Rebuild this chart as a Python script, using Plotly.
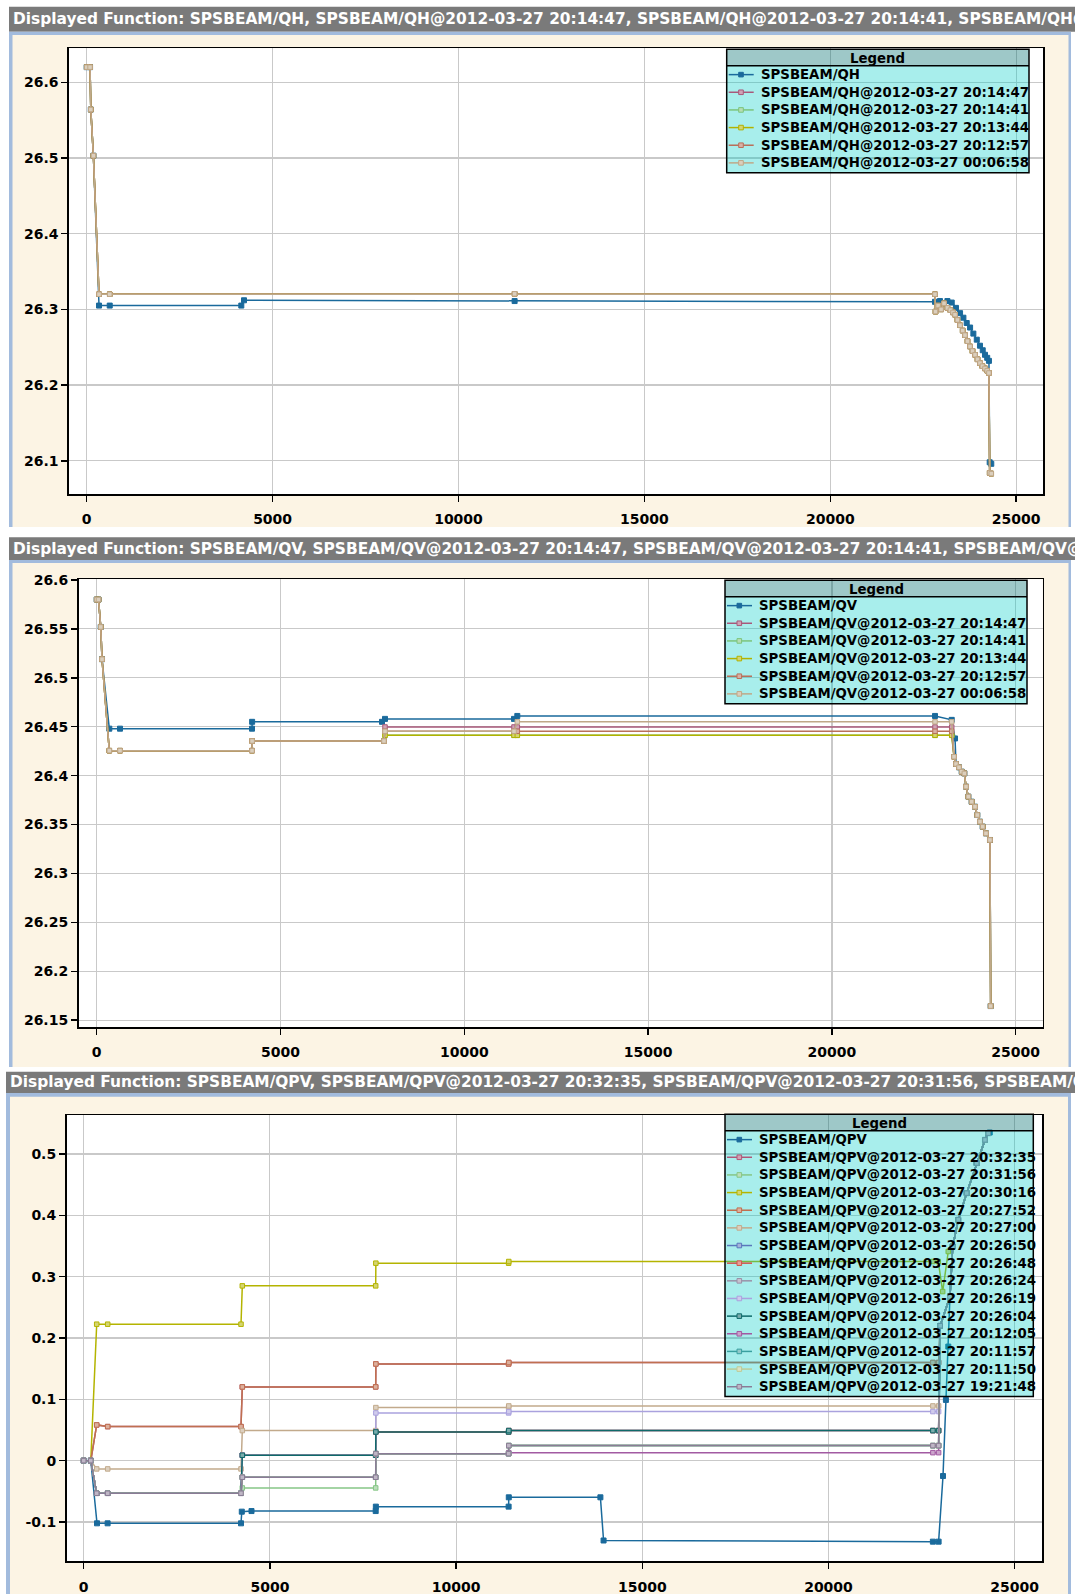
import plotly.graph_objects as go

W, H = 1075, 1594

# ---------------------------------------------------------------- QH
QH_NAMES = ["SPSBEAM/QH",
            "SPSBEAM/QH@2012-03-27 20:14:47",
            "SPSBEAM/QH@2012-03-27 20:14:41",
            "SPSBEAM/QH@2012-03-27 20:13:44",
            "SPSBEAM/QH@2012-03-27 20:12:57",
            "SPSBEAM/QH@2012-03-27 00:06:58"]
QH_COLORS = ["#1a6a9c", "#a8587a", "#7cc47c", "#b2b200", "#b9705a", "#bfa888"]

QH_X = [0, 90, 110, 180, 331, 619, 4158, 4231, 11509, 22816, 22950, 23050, 23150,
        23266, 23380, 23490, 23580, 23669, 23760, 23848, 23940, 24026, 24100, 24161,
        24220, 24267, 24287, 24330]
QH_Y = [26.62, 26.62, 26.564, 26.503, 26.305, 26.305, 26.305, 26.312, 26.311, 26.310,
        26.311, 26.308, 26.311, 26.309, 26.302, 26.295, 26.289, 26.282, 26.276, 26.268,
        26.260, 26.252, 26.246, 26.240, 26.236, 26.232, 26.098, 26.096]

# all stored references follow the same trajectory
QH_REF_X = [0, 90, 110, 180, 331, 619, 11509, 22816, 22830, 22900, 22980, 23060, 23150,
            23230, 23300, 23354, 23420, 23490, 23560, 23623, 23690, 23758, 23825, 23893,
            23960, 24026, 24090, 24161, 24220, 24267, 24287, 24330]
QH_REF_Y = [26.62, 26.62, 26.564, 26.503, 26.32, 26.32, 26.3205, 26.32, 26.297, 26.305,
            26.300, 26.308, 26.302, 26.299, 26.296, 26.293, 26.286, 26.279, 26.272, 26.266,
            26.258, 26.251, 26.245, 26.240, 26.234, 26.229, 26.225, 26.222, 26.219, 26.216,
            26.084, 26.083]

QH_YTICKS = [26.1, 26.2, 26.3, 26.4, 26.5, 26.6]
QH_YTEXT = ["26.1", "26.2", "26.3", "26.4", "26.5", "26.6"]

# ---------------------------------------------------------------- QV
QV_NAMES = ["SPSBEAM/QV",
            "SPSBEAM/QV@2012-03-27 20:14:47",
            "SPSBEAM/QV@2012-03-27 20:14:41",
            "SPSBEAM/QV@2012-03-27 20:13:44",
            "SPSBEAM/QV@2012-03-27 20:12:57",
            "SPSBEAM/QV@2012-03-27 00:06:58"]
QV_COLORS = QH_COLORS

QV_X = [0, 50, 110, 145, 343, 634, 4225, 4228, 7761, 7843, 11352, 11442, 22805, 23259, 23349]
QV_Y = [26.58, 26.58, 26.552, 26.519, 26.448, 26.448, 26.448, 26.455, 26.455, 26.458,
        26.458, 26.461, 26.461, 26.457, 26.438]

QV_REF_HEAD_X = [0, 50, 110, 145, 343, 634, 4225, 4228, 7815]
QV_REF_HEAD_Y = [26.58, 26.58, 26.552, 26.519, 26.4255, 26.4255, 26.4255, 26.4354, 26.4354]
QV_REF_MID_X = [7843, 11352, 11442, 22805, 23259]
# plateau levels of each reference (20:14:47, 20:14:41, 20:13:44, 20:12:57, 00:06:58)
QV_REF_LEVEL_C = [26.4497, 26.4412, 26.4412, 26.4453, 26.4453]
QV_REF_LEVEL_D = [26.4497, 26.4412, 26.4412, 26.4453, 26.455]

QV_RAMP_X = [23322, 23376, 23458, 23531, 23602, 23648, 23711, 23802, 23893, 23955,
             24028, 24102, 24191, 24300, 24319]
QV_RAMP_Y = [26.4193, 26.4119, 26.4085, 26.404, 26.4023, 26.3887, 26.3785, 26.3733,
             26.3682, 26.3597, 26.3529, 26.3478, 26.341, 26.3342, 26.1644]

QV_YTICKS = [26.15, 26.2, 26.25, 26.3, 26.35, 26.4, 26.45, 26.5, 26.55, 26.6]
QV_YTEXT = ["26.15", "26.2", "26.25", "26.3", "26.35", "26.4", "26.45", "26.5", "26.55", "26.6"]

# ---------------------------------------------------------------- QPV
QPV_NAMES = ["SPSBEAM/QPV",
             "SPSBEAM/QPV@2012-03-27 20:32:35",
             "SPSBEAM/QPV@2012-03-27 20:31:56",
             "SPSBEAM/QPV@2012-03-27 20:30:16",
             "SPSBEAM/QPV@2012-03-27 20:27:52",
             "SPSBEAM/QPV@2012-03-27 20:27:00",
             "SPSBEAM/QPV@2012-03-27 20:26:50",
             "SPSBEAM/QPV@2012-03-27 20:26:48",
             "SPSBEAM/QPV@2012-03-27 20:26:24",
             "SPSBEAM/QPV@2012-03-27 20:26:19",
             "SPSBEAM/QPV@2012-03-27 20:26:04",
             "SPSBEAM/QPV@2012-03-27 20:12:05",
             "SPSBEAM/QPV@2012-03-27 20:11:57",
             "SPSBEAM/QPV@2012-03-27 20:11:50",
             "SPSBEAM/QPV@2012-03-27 19:21:48"]
QPV_COLORS = ["#1a6a9c", "#b05878", "#86c686", "#b4b400", "#c07050", "#c2aa8c",
              "#5a78bc", "#d2554a", "#9a92a8", "#aaa2de", "#0f6a6a", "#a25aa2",
              "#3aa0a0", "#bccb98", "#8a7c96"]

QPV_X = [0, 190, 357, 642, 4224, 4245, 4506, 7841, 7845, 11410, 11415, 13875, 13960,
         22803, 22957, 23075, 23153, 23217, 23262, 23335, 23485, 23711, 23979, 24202,
         24290, 24330]
QPV_Y = [0, 0, -0.1022, -0.1022, -0.1022, -0.0832, -0.0822, -0.0822, -0.075, -0.075,
         -0.0598, -0.0598, -0.1302, -0.1321, -0.1321, -0.0251, 0.099, 0.186, 0.2675,
         0.349, 0.3927, 0.4362, 0.4852, 0.523, 0.534, 0.535]

QPV_REF_X = [0, 190, 349, 644, 4224, 4259, 7841, 7845, 11410, 11415, 22803, 22957]
# plateau levels of the 14 references, in legend order
QPV_REF_A = [0.0582, -0.0532, 0.2225, 0.0582, -0.0135, -0.0532, -0.0532, -0.0532,
             -0.0532, -0.0532, -0.0532, -0.0532, -0.0532, -0.0532]
QPV_REF_A_END = [0.0555, -0.0532, 0.2225, 0.0555, -0.0135, -0.0532, -0.0532, -0.0532,
                 -0.0532, -0.0532, -0.0532, -0.0532, -0.0532, -0.0532]
QPV_REF_B = [0.1202, -0.0445, 0.285, 0.1202, 0.049, 0.0088, 0.0088, -0.0271, 0.0088,
             0.0088, -0.0271, -0.0271, -0.0271, -0.0271]
QPV_REF_C = [0.1577, 0.0114, 0.322, 0.1577, 0.0865, 0.0468, 0.0468, 0.0114, 0.0778,
             0.0468, 0.0114, 0.0114, 0.0114, 0.0114]
QPV_REF_D = [0.160, 0.0245, 0.3247, 0.160, 0.0892, 0.049, 0.049, 0.0245, 0.080, 0.049,
             0.013, 0.0245, 0.0245, 0.0245]

QPV_REF_TAIL_X = [23000, 23262, 23335, 23485, 23711, 23979, 24202, 24290]
QPV_REF_TAIL_Y = [0.22, 0.2675, 0.349, 0.3927, 0.4362, 0.4852, 0.523, 0.534]
# the 20:30:16 reference dips before joining the ramp
QPV_OLIVE_TAIL_X = [23066, 23216, 23335, 23485, 23711, 23979, 24202, 24290]
QPV_OLIVE_TAIL_Y = [0.2757, 0.341, 0.349, 0.3927, 0.4362, 0.4852, 0.523, 0.534]

QPV_YTICKS = [-0.1, 0, 0.1, 0.2, 0.3, 0.4, 0.5]
QPV_YTEXT = ["-0.1", "0", "0.1", "0.2", "0.3", "0.4", "0.5"]

X_TICKS = [0, 5000, 10000, 15000, 20000, 25000]
X_TEXT = ["0", "5000", "10000", "15000", "20000", "25000"]

# ---------------------------------------------------------------- styling
TITLE_BG = "#7a7a7a"
FRAME_BLUE = "#a2bbdd"
CREAM = "#fcf4e4"
GRID = "#c9c9c9"
HDR_FILL = "rgba(0,110,110,0.38)"
BODY_FILL = "rgba(0,205,200,0.34)"
FONT = "DejaVu Sans"


def lighten(hexcol, f=0.45):
    r, g, b = (int(hexcol[i:i + 2], 16) for i in (1, 3, 5))
    r, g, b = (int(c + (255 - c) * f) for c in (r, g, b))
    return f"rgb({r},{g},{b})"


def prect(x0, y0, x1, y1, fill, layer="below", lc=None, lw=0):
    return dict(type="rect", xref="paper", yref="paper", layer=layer,
                x0=x0 / W, x1=x1 / W, y0=1 - y1 / H, y1=1 - y0 / H,
                fillcolor=fill, line=dict(color=lc or "rgba(0,0,0,0)", width=lw))


def pline(x0, y0, x1, y1, color, width, layer="above"):
    return dict(type="line", xref="paper", yref="paper", layer=layer,
                x0=x0 / W, x1=x1 / W, y0=1 - y0 / H, y1=1 - y1 / H,
                line=dict(color=color, width=width))


def ptext(x, y, text, size, color, anchor="left", bold=True):
    return dict(xref="paper", yref="paper", x=x / W, y=1 - y / H, text=text,
                showarrow=False, xanchor=anchor, yanchor="middle",
                font=dict(family=FONT, size=size, color=color,
                          weight="bold" if bold else "normal"))


# panel frames: title bar (y0, y1, x0), frame box, plot area
PANELS = [
    dict(title=(6.7, 31.7, 9), frame=(9, 31.7, 1071, 527), cream=(12.5, 35, 1068.5, 527),
         plot=(68.9, 48.3, 1043, 494), xr=(-479, 25721), yr=(26.0561, 26.6449),
         yt=(QH_YTICKS, QH_YTEXT), names=QH_NAMES, colors=QH_COLORS,
         legend=(726.7, 49.3, 302.3)),
    dict(title=(537.3, 560, 9), frame=(9, 560, 1071, 1067), cream=(12.5, 563, 1068.5, 1067),
         plot=(78.5, 579.3, 1042.7, 1027), xr=(-495, 25734), yr=(26.143, 26.6007),
         yt=(QV_YTICKS, QV_YTEXT), names=QV_NAMES, colors=QV_COLORS,
         legend=(725, 580.3, 302)),
    dict(title=(1071.7, 1093, 6), frame=(6, 1093, 1071, 1594), cream=(10, 1096.7, 1068, 1594),
         plot=(66.5, 1115, 1042.4, 1561.4), xr=(-462, 25744), yr=(-0.1643, 0.5636),
         yt=(QPV_YTICKS, QPV_YTEXT), names=QPV_NAMES, colors=QPV_COLORS,
         legend=(725, 1114.3, 308.3)),
]

# ---------------------------------------------------------------- series
series = [[] for _ in PANELS]

series[0].append((QH_X, QH_Y, True))
for _ in QH_NAMES[1:]:
    series[0].append((QH_REF_X, QH_REF_Y, False))

series[1].append((QV_X + QV_RAMP_X[1:], QV_Y + QV_RAMP_Y[1:], True))
for c, d in zip(QV_REF_LEVEL_C, QV_REF_LEVEL_D):
    xs = QV_REF_HEAD_X + QV_REF_MID_X + QV_RAMP_X
    ys = QV_REF_HEAD_Y + [c, c, d, d, d] + QV_RAMP_Y
    series[1].append((xs, ys, False))

series[2].append((QPV_X, QPV_Y, True))
for i in range(len(QPV_NAMES) - 1):
    a, ae, b, c, d = QPV_REF_A[i], QPV_REF_A_END[i], QPV_REF_B[i], QPV_REF_C[i], QPV_REF_D[i]
    ys = [0, 0, a, ae, ae, b, b, c, c, d, d, d]
    if i == 2:
        xs = QPV_REF_X[:-1] + [22948] + QPV_OLIVE_TAIL_X
        ys = ys + QPV_OLIVE_TAIL_Y
    else:
        xs = QPV_REF_X + QPV_REF_TAIL_X
        ys = ys + QPV_REF_TAIL_Y
    series[2].append((xs, ys, False))

fig = go.Figure()
shapes, annotations = [], []
layout = {}

for p, P in enumerate(PANELS):
    sfx = "" if p == 0 else str(p + 1)
    xa, ya = "x" + sfx, "y" + sfx
    for (xs, ys, main), name, col in zip(series[p], P["names"], P["colors"]):
        fig.add_trace(go.Scatter(
            x=xs, y=ys, name=name, xaxis=xa, yaxis=ya, mode="lines+markers",
            showlegend=False, hoverinfo="skip",
            line=dict(color=col, width=1.5),
            marker=dict(symbol="square", size=5 if main else 4.5,
                        color=col if main else lighten(col),
                        line=dict(color=col, width=1))))

    px0, py0, px1, py1 = P["plot"]
    common = dict(showline=True, mirror=True, linecolor="black", linewidth=1.5,
                  ticks="outside", ticklen=6, tickwidth=1.5, tickcolor="black",
                  showgrid=True, gridcolor=GRID, gridwidth=1.2, zeroline=False,
                  tickfont=dict(family=FONT, size=14, color="black", weight="bold"),
                  automargin=False, fixedrange=True, tickmode="array")
    layout["xaxis" + sfx] = dict(common, domain=[px0 / W, px1 / W], range=list(P["xr"]),
                                 anchor=ya, tickvals=X_TICKS, ticktext=X_TEXT,
                                 ticklabelstandoff=6)
    layout["yaxis" + sfx] = dict(common, domain=[1 - py1 / H, 1 - py0 / H], range=list(P["yr"]),
                                 anchor=xa, tickvals=P["yt"][0], ticktext=P["yt"][1])

    # window chrome
    ty0, ty1, tx0 = P["title"]
    shapes.append(prect(tx0, ty0, W + 5, ty1, TITLE_BG))
    shapes.append(prect(*P["frame"], FRAME_BLUE))
    shapes.append(prect(*P["cream"], CREAM))
    shapes.append(prect(px0, py0, px1, py1, "white"))
    annotations.append(ptext(tx0 + 2, (ty0 + ty1) / 2,
                             "Displayed Function: " + ", ".join(P["names"]),
                             15.4, "white"))

    # legend box
    lx, ly, lw = P["legend"]
    hdr, row = 16.5, 17.65
    n = len(P["names"])
    lb = ly + hdr + n * row + 1
    shapes.append(prect(lx, ly, lx + lw, ly + hdr, HDR_FILL, "above"))
    shapes.append(prect(lx, ly + hdr, lx + lw, lb, BODY_FILL, "above"))
    shapes.append(prect(lx, ly, lx + lw, lb, "rgba(0,0,0,0)", "above", "black", 1.5))
    shapes.append(pline(lx, ly + hdr, lx + lw, ly + hdr, "black", 1.5))
    annotations.append(ptext(lx + lw / 2, ly + hdr / 2 + 0.5, "Legend", 13.3, "black", "center"))
    for i, (name, col) in enumerate(zip(P["names"], P["colors"])):
        cy = ly + hdr + row * (i + 0.5)
        shapes.append(pline(lx + 2, cy, lx + 27, cy, col, 1.5))
        shapes.append(prect(lx + 12, cy - 2.3, lx + 16.6, cy + 2.3,
                            col if i == 0 else lighten(col), "above", col, 1))
        annotations.append(ptext(lx + 32, cy, name, 13.3, "black"))

fig.update_layout(
    template="none",
    width=W, height=H,
    margin=dict(l=0, r=0, t=0, b=0, pad=0),
    paper_bgcolor="white", plot_bgcolor="white",
    showlegend=False,
    shapes=shapes, annotations=annotations,
    **layout,
)

fig.write_html("out.html", config={"displayModeBar": False, "staticPlot": True})
